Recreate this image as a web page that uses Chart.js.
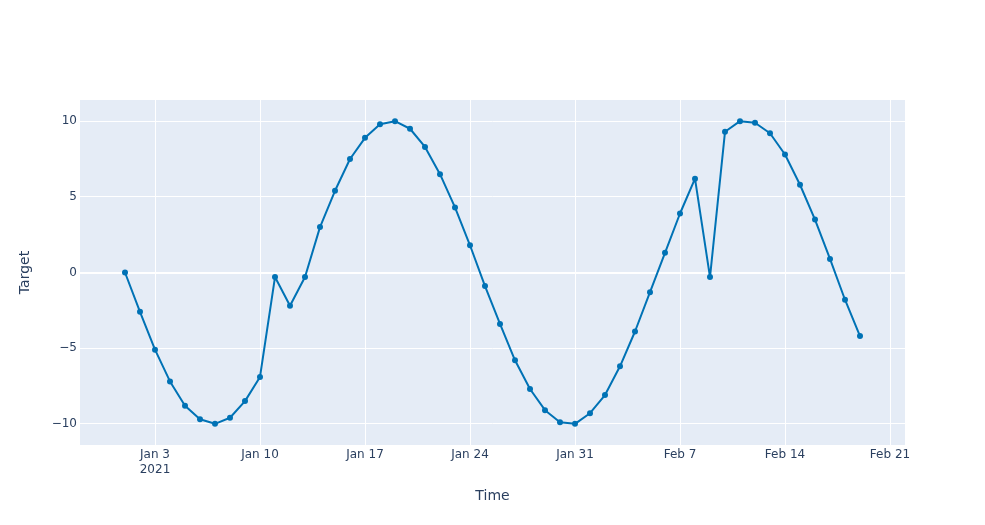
<!DOCTYPE html>
<html>
<head>
<meta charset="utf-8">
<script src="https://cdn.jsdelivr.net/npm/chart.js@4"></script>
<style>
  html, body { margin: 0; padding: 0; background: #fff; }
  #wrap { width: 985px; height: 525px; }
</style>
</head>
<body>
<div id="wrap"><canvas id="chart"></canvas></div>
<script>
// daily observations
const dates = [
  '2021-01-01','2021-01-02','2021-01-03','2021-01-04','2021-01-05','2021-01-06','2021-01-07',
  '2021-01-08','2021-01-09','2021-01-10','2021-01-11','2021-01-12','2021-01-13','2021-01-14',
  '2021-01-15','2021-01-16','2021-01-17','2021-01-18','2021-01-19','2021-01-20','2021-01-21',
  '2021-01-22','2021-01-23','2021-01-24','2021-01-25','2021-01-26','2021-01-27','2021-01-28',
  '2021-01-29','2021-01-30','2021-01-31','2021-02-01','2021-02-02','2021-02-03','2021-02-04',
  '2021-02-05','2021-02-06','2021-02-07','2021-02-08','2021-02-09','2021-02-10','2021-02-11',
  '2021-02-12','2021-02-13','2021-02-14','2021-02-15','2021-02-16','2021-02-17','2021-02-18',
  '2021-02-19'
];
const target = [
  0.0, -2.6, -5.1, -7.2, -8.8, -9.7, -10.0,
  -9.6, -8.5, -6.9, -0.3, -2.2, -0.3, 3.0,
  5.4, 7.5, 8.9, 9.8, 10.0, 9.5, 8.3,
  6.5, 4.3, 1.8, -0.9, -3.4, -5.8, -7.7,
  -9.1, -9.9, -10.0, -9.3, -8.1, -6.2, -3.9,
  -1.3, 1.3, 3.9, 6.2, -0.3, 9.3, 10.0,
  9.9, 9.2, 7.8, 5.8, 3.5, 0.9, -1.8,
  -4.2
];
const xTickDates = ['2021-01-03','2021-01-10','2021-01-17','2021-01-24','2021-01-31','2021-02-07','2021-02-14','2021-02-21'];
const xTickLabels = [['Jan 3', '2021'], 'Jan 10', 'Jan 17', 'Jan 24', 'Jan 31', 'Feb 7', 'Feb 14', 'Feb 21'];
const yTicks = [-10, -5, 0, 5, 10];
const yTickLabels = ['\u221210', '\u22125', '0', '5', '10'];
const xMinDate = '2020-12-29';
const xMaxDate = '2021-02-22';

const DAY = 86400000;
const t0 = Date.parse(dates[0]);
const toDay = d => (Date.parse(d) - t0) / DAY;

const points = dates.map((d, i) => ({ x: toDay(d), y: target[i] }));
const xTickVals = xTickDates.map(toDay);

const fontFamily = '"DejaVu Sans", "Open Sans", sans-serif';
const textColor = '#2a3f5f';

const plotBg = {
  id: 'plotBg',
  beforeDraw(chart) {
    const { ctx, chartArea: a } = chart;
    ctx.save();
    ctx.fillStyle = '#E5ECF6';
    ctx.fillRect(a.left, a.top, a.right - a.left, a.bottom - a.top);
    ctx.restore();
  }
};

new Chart(document.getElementById('chart'), {
  type: 'line',
  data: {
    datasets: [{
      label: 'Target',
      data: points,
      borderColor: '#0072B5',
      backgroundColor: '#0072B5',
      borderWidth: 2,
      borderJoinStyle: 'round',
      pointRadius: 3,
      pointHoverRadius: 3,
      pointBorderWidth: 0,
      tension: 0,
      fill: false
    }]
  },
  options: {
    responsive: true,
    maintainAspectRatio: false,
    animation: false,
    layout: { padding: { left: 13, right: 80, top: 100, bottom: 0 } },
    plugins: {
      legend: { display: false },
      tooltip: { enabled: false }
    },
    scales: {
      x: {
        type: 'linear',
        min: toDay(xMinDate),
        max: toDay(xMaxDate),
        afterBuildTicks(scale) { scale.ticks = xTickVals.map(v => ({ value: v })); },
        afterFit(scale) { scale.height = 80; },
        ticks: {
          autoSkip: false,
          maxRotation: 0,
          padding: 3,
          color: textColor,
          font: { family: fontFamily, size: 12 },
          callback: (v) => xTickLabels[xTickVals.indexOf(v)]
        },
        grid: { color: '#ffffff', lineWidth: 1, drawTicks: false },
        border: { display: false },
        title: {
          display: true,
          text: 'Time',
          color: textColor,
          font: { family: fontFamily, size: 14 },
          padding: { top: 6, bottom: 20 }
        }
      },
      y: {
        type: 'linear',
        min: -11.4,
        max: 11.4,
        afterBuildTicks(scale) { scale.ticks = yTicks.map(v => ({ value: v })); },
        afterFit(scale) { scale.width = 67; },
        ticks: {
          padding: 3,
          color: textColor,
          font: { family: fontFamily, size: 12 },
          callback: (v) => yTickLabels[yTicks.indexOf(v)]
        },
        grid: {
          color: '#ffffff',
          lineWidth: (c) => (c.tick && c.tick.value === 0 ? 2 : 1),
          drawTicks: false
        },
        border: { display: false },
        title: {
          display: true,
          text: 'Target',
          color: textColor,
          font: { family: fontFamily, size: 14 },
          padding: { bottom: 0 }
        }
      }
    }
  },
  plugins: [plotBg]
});
</script>
</body>
</html>
